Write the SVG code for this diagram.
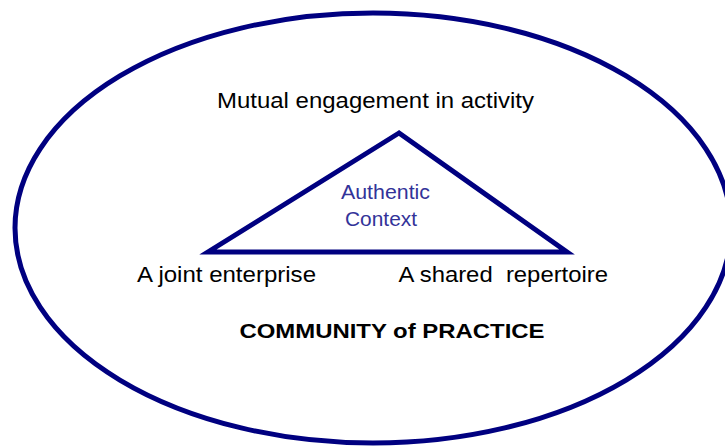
<svg xmlns="http://www.w3.org/2000/svg" width="725" height="446" viewBox="0 0 725 446">
<style>
.shape{fill:none;stroke:#000080;stroke-width:5;stroke-linejoin:miter}
.lbl{font-family:"Liberation Sans",Arial,sans-serif;font-size:22px;fill:#000}
.inner{font-family:"Liberation Sans",Arial,sans-serif;font-size:21px;fill:#333399}
.title{font-family:"Liberation Sans",Arial,sans-serif;font-size:21px;font-weight:bold;fill:#000}
</style>
<rect width="725" height="446" fill="#fff"/>
<g id="community">
<ellipse class="shape" cx="373" cy="228" rx="358" ry="215"/>
<text class="title" x="239.5" y="338" textLength="305" lengthAdjust="spacingAndGlyphs">COMMUNITY of PRACTICE</text>
</g>
<g id="triangle">
<polygon class="shape" points="399,133 208,252 567,252"/>
<text class="inner" x="341" y="199" textLength="89" lengthAdjust="spacingAndGlyphs">Authentic</text>
<text class="inner" x="345" y="226" textLength="72" lengthAdjust="spacingAndGlyphs">Context</text>
</g>
<g id="mutual">
<text class="lbl" x="217" y="108" textLength="317" lengthAdjust="spacingAndGlyphs">Mutual engagement in activity</text>
</g>
<g id="joint">
<text class="lbl" x="137" y="282" textLength="179" lengthAdjust="spacingAndGlyphs">A joint enterprise</text>
</g>
<g id="repertoire">
<text class="lbl" x="398.5" y="282" textLength="209.5" lengthAdjust="spacingAndGlyphs" xml:space="preserve">A shared  repertoire</text>
</g>
<g id="connectors"></g>
</svg>
